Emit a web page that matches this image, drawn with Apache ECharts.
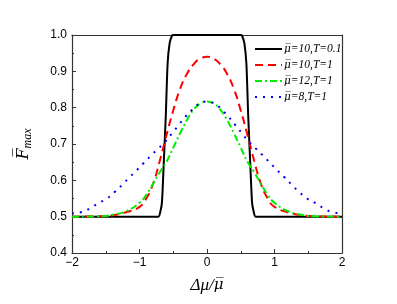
<!DOCTYPE html>
<html><head><meta charset="utf-8">
<script src="https://cdn.jsdelivr.net/npm/echarts@6/dist/echarts.min.js"></script>
<style>html,body{margin:0;padding:0;background:#fff}#c{width:397px;height:304px}</style>
</head><body><div id="c"></div>
<script>
var names = ['\u03bc\u0305=10,T=0.1','\u03bc\u0305=10,T=1','\u03bc\u0305=12,T=1','\u03bc\u0305=8,T=1'];
var xTicks = [-2,-1,0,1,2];
var yTicks = [0.4,0.5,0.6,0.7,0.8,0.9,1.0];

var xBlack = [-2,-0.72,-0.69,-0.667,-0.64,-0.61,-0.584,-0.554,-0.52,-0.5,0.5,0.52,0.554,0.584,0.61,0.64,0.667,0.69,0.72,2];
var yBlack = [0.5,0.5,0.515,0.54,0.65,0.78,0.92,0.977,0.998,1.0,1.0,0.998,0.977,0.92,0.78,0.65,0.54,0.515,0.5,0.5];

var xRed = [-2,-1.6,-1.4,-1.2,-1.0,-0.9,-0.8,-0.7,-0.6,-0.5,-0.4,-0.3,-0.2,-0.1,0,0.1,0.2,0.3,0.4,0.5,0.6,0.7,0.8,0.9,1.0,1.2,1.4,1.6,2];
var yRed = [0.5,0.501,0.504,0.512,0.527,0.55,0.59,0.653,0.725,0.792,0.851,0.892,0.919,0.935,0.94,0.935,0.919,0.892,0.851,0.792,0.725,0.653,0.59,0.55,0.527,0.512,0.504,0.501,0.5];

var xGreen = [-2,-1.6,-1.4,-1.2,-1.0,-0.9,-0.8,-0.7,-0.6,-0.5,-0.4,-0.3,-0.2,-0.1,0,0.1,0.2,0.3,0.4,0.5,0.6,0.7,0.8,0.9,1.0,1.2,1.4,1.6,2];
var yGreen = [0.5,0.501,0.505,0.515,0.538,0.56,0.59,0.622,0.651,0.69,0.729,0.765,0.794,0.811,0.817,0.811,0.794,0.765,0.729,0.69,0.651,0.622,0.59,0.56,0.538,0.515,0.505,0.501,0.5];

var xBlue = [-2,-1.85,-1.73,-1.61,-1.48,-1.36,-1.26,-1.14,-1.04,-0.94,-0.82,-0.72,-0.62,-0.52,-0.42,-0.32,-0.22,-0.12,0,0.12,0.22,0.32,0.42,0.52,0.62,0.72,0.82,0.94,1.04,1.14,1.26,1.36,1.48,1.61,1.73,1.85,2];
var yBlue = [0.509,0.513,0.523,0.537,0.55,0.569,0.587,0.61,0.628,0.647,0.67,0.688,0.706,0.729,0.752,0.775,0.794,0.81,0.817,0.81,0.794,0.775,0.752,0.729,0.706,0.688,0.67,0.647,0.628,0.61,0.587,0.569,0.55,0.537,0.523,0.513,0.509];

function pairs(xs, ys){ return xs.map(function(x,i){return [x, ys[i]];}); }

var chart = echarts.init(document.getElementById('c'), null, {renderer:'canvas'});
var axisCol = '#333';
chart.setOption({
  animation:false,
  backgroundColor:'#fff',
  grid:{left:72,right:55,top:35,bottom:51,show:false},
  legend:{
    orient:'vertical', left:249, top:38, itemGap:4, itemWidth:27, itemHeight:12,
    itemStyle:{opacity:0},
    formatter:function(n){ var i=n.indexOf('=');
      return '{m|'+n.slice(0,i)+'}{t|'+n.slice(i)+'}'; },
    textStyle:{padding:[0,0,0,-3], rich:{
      m:{fontFamily:'DejaVu Serif', fontStyle:'italic', fontSize:10.5, color:'#000'},
      t:{fontFamily:'Liberation Serif', fontStyle:'italic', fontSize:11.5, color:'#000'}
    }},
    data:names
  },
  xAxis:[{
    type:'value', min:-2, max:2, interval:1,
    name:'{a|\u0394\u03bc/}{m|\u03bc\u0305}', nameLocation:'middle', nameGap:24,
    nameTextStyle:{rich:{
      a:{fontFamily:'Liberation Serif', fontStyle:'italic', fontSize:17, color:'#000'},
      m:{fontFamily:'DejaVu Serif', fontStyle:'italic', fontSize:15, color:'#000'}
    }},
    axisLine:{show:true, onZero:false, lineStyle:{color:axisCol,width:1.2}},
    axisTick:{show:true, inside:true, length:4, lineStyle:{color:axisCol}},
    minorTick:{show:true, splitNumber:2, length:2, lineStyle:{color:axisCol}},
    splitLine:{show:false},
    axisLabel:{fontFamily:'Liberation Sans', fontSize:12, color:'#000', margin:4,
      formatter:function(v){return String(v).replace('-','\u2212');}}
  },{
    type:'value', min:-2, max:2, position:'top',
    axisLine:{show:true, onZero:false, lineStyle:{color:axisCol,width:1.2}},
    axisTick:{show:false}, axisLabel:{show:false}, splitLine:{show:false}
  }],
  yAxis:[{
    type:'value', min:0.4, max:1.0, interval:0.1,
    name:'{a|F\u0305}{b|max}', nameLocation:'middle', nameGap:38, nameRotate:90,
    nameTextStyle:{rich:{
      a:{fontFamily:'DejaVu Serif', fontStyle:'italic', fontSize:16, color:'#000'},
      b:{fontFamily:'Liberation Serif', fontStyle:'italic', fontSize:12, color:'#000', verticalAlign:'bottom', padding:[8,0,0,0]}
    }},
    axisLine:{show:true, onZero:false, lineStyle:{color:axisCol,width:1.2}},
    axisTick:{show:true, inside:true, length:4, lineStyle:{color:axisCol}},
    minorTick:{show:true, splitNumber:2, length:2, lineStyle:{color:axisCol}},
    splitLine:{show:false},
    axisLabel:{fontFamily:'Liberation Sans', fontSize:12, color:'#000', margin:5,
      formatter:function(v){return v.toFixed(1);}}
  },{
    type:'value', min:0.4, max:1.0, position:'right',
    axisLine:{show:true, onZero:false, lineStyle:{color:axisCol,width:1.2}},
    axisTick:{show:false}, axisLabel:{show:false}, splitLine:{show:false}
  }],
  series:[
    {name:names[0], type:'line', data:pairs(xBlack,yBlack), showSymbol:false, symbol:'none', smooth:0.2,
     lineStyle:{color:'#000', width:2}, itemStyle:{color:'#000'}},
    {name:names[1], type:'line', data:pairs(xRed,yRed), showSymbol:false, symbol:'none', smooth:true,
     lineStyle:{color:'#ff0000', width:2, type:[8,5]}, itemStyle:{color:'#ff0000'}},
    {name:names[2], type:'line', data:pairs(xGreen,yGreen), showSymbol:false, symbol:'none', smooth:true,
     lineStyle:{color:'#00ee00', width:2, type:[7,3,2,3]}, itemStyle:{color:'#00ee00'}},
    {name:names[3], type:'line', data:pairs(xBlue,yBlue), showSymbol:false, symbol:'none', smooth:true,
     lineStyle:{color:'#0000ff', width:2, type:[2,6]}, itemStyle:{color:'#0000ff'}}
  ]
});
</script></body></html>
